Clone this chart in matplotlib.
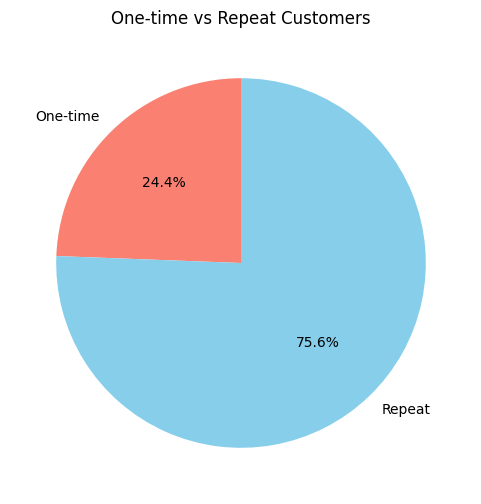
import matplotlib
matplotlib.use("Agg")
import matplotlib.pyplot as plt

labels = ["One-time", "Repeat"]
shares = [24.4, 75.6]
colors = ["salmon", "skyblue"]

fig, ax = plt.subplots(figsize=(6, 6), dpi=100)
ax.pie(shares, labels=labels, colors=colors, autopct="%1.1f%%", startangle=90)
ax.set_title("One-time vs Repeat Customers")
fig.savefig("out.png", bbox_inches="tight")
